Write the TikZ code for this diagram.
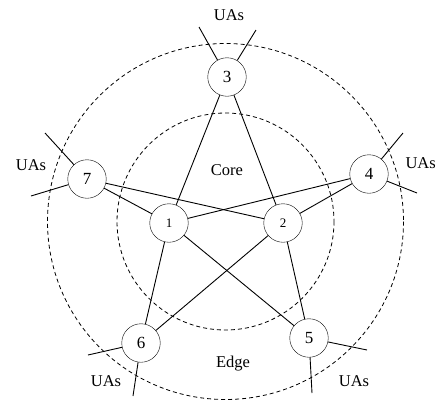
\documentclass[tikz,border=0pt]{standalone}
\usepackage{fontspec}
\setmainfont{Liberation Serif}
\usetikzlibrary{positioning}
\tikzset{
  router/.style={circle, draw, fill=white, minimum size=38.5pt, inner sep=0pt, font=\fontsize{17}{17}\selectfont},
  corerouter/.style={router, font=\fontsize{13}{13}\selectfont},
  zone/.style={draw, dashed, dash pattern=on 4pt off 3pt, line width=0.8pt},
  link/.style={line width=0.9pt},
  lbl/.style={font=\fontsize{16.5}{16.5}\selectfont, inner sep=0pt},
}
\begin{document}
\begin{tikzpicture}[x=1pt, y=-1pt]
  \useasboundingbox (0,0) rectangle (437,402);
  % core and edge regions
  \coordinate (ctr) at (225.5,221.5);
  \draw[zone] (ctr) circle (178);
  \draw[zone] (ctr) circle (108.5);
  \node[lbl] (core) at (227,170) {Core};
  \node[lbl] (edge) at (233,364) {Edge};
  % routers
  \node[corerouter] (r1) at (169,223) {1};
  \node[corerouter] (r2) at (283,223) {2};
  \node[router] (r3) at (227,77) {3};
  \node[router] (r4) at (369,174) {4};
  \node[router] (r5) at (309,338) {5};
  \node[router] (r6) at (141,343) {6};
  \node[router] (r7) at (87,179) {7};
  % every edge router links to both core routers
  \foreach \e in {r3,r4,r5,r6,r7} {
    \draw[link] (\e) -- (r1);
    \draw[link] (\e) -- (r2);
  }
  % access links towards the UAs
  \coordinate (u3a) at (199,27);  \coordinate (u3b) at (256,30);
  \coordinate (u4a) at (403,133); \coordinate (u4b) at (417,193);
  \coordinate (u5a) at (367,350); \coordinate (u5b) at (312,393);
  \coordinate (u6a) at (88,355);  \coordinate (u6b) at (133,396);
  \coordinate (u7a) at (45,133);  \coordinate (u7b) at (31,196);
  \foreach \e in {3,4,5,6,7} {
    \draw[link] (r\e) -- (u\e a);
    \draw[link] (r\e) -- (u\e b);
  }
  \node[lbl] (ua3) at (229,15) {UAs};
  \node[lbl, anchor=east] (ua4) at (436,163) {UAs};
  \node[lbl] (ua5) at (354,381) {UAs};
  \node[lbl] (ua6) at (106,381) {UAs};
  \node[lbl] (ua7) at (31,165) {UAs};
\end{tikzpicture}
\end{document}
